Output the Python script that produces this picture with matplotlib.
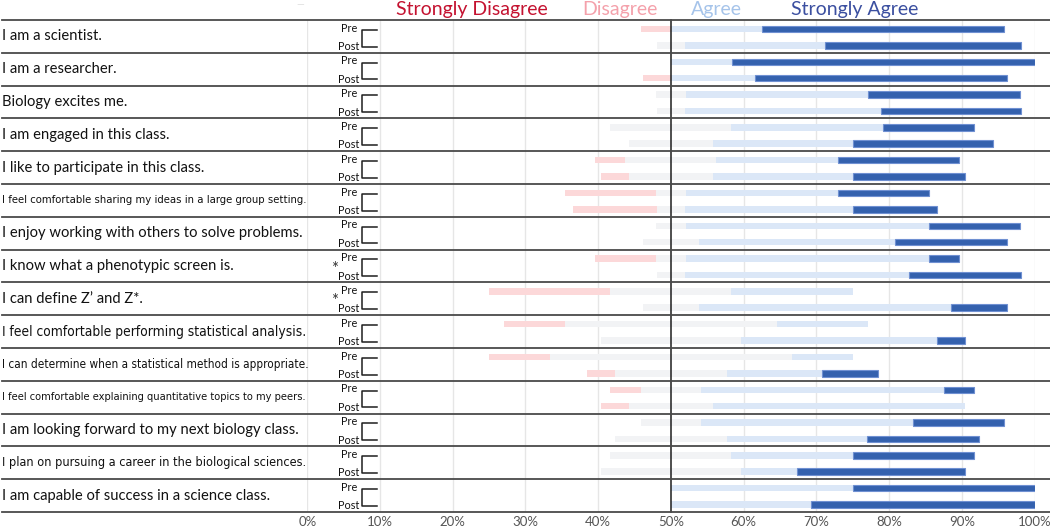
import matplotlib
matplotlib.use("Agg")
import matplotlib.pyplot as plt
from matplotlib import font_manager
from matplotlib.font_manager import FontProperties
from matplotlib.transforms import blended_transform_factory

# ---------------- data ----------------
questions = [
    "I am a scientist.",
    "I am a researcher.",
    "Biology excites me.",
    "I am engaged in this class.",
    "I like to participate in this class.",
    "I feel comfortable sharing my ideas in a large group setting.",
    "I enjoy working with others to solve problems.",
    "I know what a phenotypic screen is.",
    "I can define Z\u2019 and Z*.",
    "I feel comfortable performing statistical analysis.",
    "I can determine when a statistical method is appropriate.",
    "I feel comfortable explaining quantitative topics to my peers.",
    "I am looking forward to my next biology class.",
    "I plan on pursuing a career in the biological sciences.",
    "I am capable of success in a science class.",
]
significant = [False, False, False, False, False, False, False, True, True,
               False, False, False, False, False, False]

categories = ["Strongly Disagree", "Disagree", "Neutral", "Agree", "Strongly Agree"]

pre_strongly_disagree = [0, 0, 0, 0, 0, 0, 0, 0, 0, 0, 0, 0, 0, 0, 0]
pre_disagree = [8.3, 0, 0, 0, 8.3, 25, 0, 16.7, 33.3, 16.7, 16.7, 8.3, 0, 0, 0]
pre_neutral = [0, 0, 8.3, 33.3, 25, 8.3, 8.3, 8.3, 33.3, 58.3, 66.7, 16.7, 16.7, 33.3, 0]
pre_agree = [25, 16.7, 50, 41.7, 33.3, 41.7, 66.7, 66.7, 33.3, 25, 16.7, 66.7, 58.3, 33.3, 50]
pre_strongly_agree = [66.7, 83.3, 41.7, 25, 33.3, 25, 25, 8.3, 0, 0, 0, 8.3, 25, 33.3, 50]

post_strongly_disagree = [0, 0, 0, 0, 0, 0, 0, 0, 0, 0, 0, 0, 0, 0, 0]
post_disagree = [0, 7.7, 0, 0, 7.7, 23.1, 0, 0, 0, 0, 7.7, 7.7, 0, 0, 0]
post_neutral = [7.7, 0, 7.7, 23.1, 23.1, 7.7, 15.4, 7.7, 15.4, 38.5, 30.8, 23.1, 30.8, 38.5, 0]
post_agree = [38.5, 23.1, 53.8, 38.5, 38.5, 46.2, 53.8, 61.5, 69.2, 53.8, 26.2, 69.2, 38.5, 15.4, 38.5]
post_strongly_agree = [53.8, 69.2, 38.5, 38.5, 30.8, 23.1, 30.8, 30.8, 15.4, 7.7, 15.4, 0, 30.8, 46.2, 61.5]

tick_values = [0, 10, 20, 30, 40, 50, 60, 70, 80, 90, 100]
tick_labels = ["0%", "10%", "20%", "30%", "40%", "50%", "60%", "70%", "80%", "90%", "100%"]

# ---------------- style ----------------
FONT = "Lato"


def find_condensed():
    order = {"ultra-condensed": 1, "extra-condensed": 2, "condensed": 3, "semi-condensed": 4}
    best = None
    for f in font_manager.fontManager.ttflist:
        st = f.stretch
        if isinstance(st, str):
            lvl = order.get(st)
        else:
            lvl = 3 if st <= 400 else None
        if lvl is None or f.style != "normal":
            continue
        wt = f.weight if isinstance(f.weight, int) else (400 if f.weight in ("normal", "regular", "book") else 700)
        if wt not in (400,):
            continue
        if "mono" in f.name.lower() or "serif" in f.name.lower() and "sans" not in f.name.lower():
            continue
        score = abs(lvl - 3)
        if best is None or score < best[0]:
            best = (score, f.fname)
    return best[1] if best else None


COND_FILE = find_condensed()

col_sd = "#c8102e"
col_d = "#fcd8d9"
col_n = "#f2f3f5"
col_a = "#dbe7f7"
col_sa = "#3461ae"
col_sa_edge = "#6f90d2"
legend_colors = ["#c41230", "#f4a1ab", "#a6c4ea", "#3b4fa0"]

W, H = 1050, 527
fig = plt.figure(figsize=(W / 100, H / 100), dpi=100)
x0px, x100px = 307.3, 1034.6
top_px, bot_px = 20, 512
ax = fig.add_axes([x0px / W, 1 - bot_px / H, (x100px - x0px) / W, (bot_px - top_px) / H])
n_q = len(questions)
ax.set_xlim(0, 100)
ax.set_ylim(n_q, 0)
ax.axis("off")


def px_to_x(px):
    return (px - x0px) / (x100px - x0px) * 100


# grid
for v in tick_values:
    if v != 50:
        ax.plot([v, v], [0, n_q], color="#e6e6e6", lw=1.0, zorder=0)
ax.plot([50, 50], [0, n_q], color="#1e1e1e", lw=1.1, zorder=4, clip_on=False)

# bars
bar_h = 0.2
scale = 0.5
series = [
    (0.274, pre_strongly_disagree, pre_disagree, pre_neutral, pre_agree, pre_strongly_agree),
    (0.773, post_strongly_disagree, post_disagree, post_neutral, post_agree, post_strongly_agree),
]
for i in range(n_q):
    for off, sd_l, d_l, n_l, a_l, sa_l in series:
        y = i + off
        sd, d, n, a, sa = sd_l[i], d_l[i], n_l[i], a_l[i], sa_l[i]
        cum = 0
        for w, c in [(n / 2, col_n), (d, col_d), (sd, col_sd)]:
            if w > 0:
                ax.barh(y, w * scale, left=50 - (cum + w) * scale, height=bar_h,
                        color=c, lw=0, zorder=2)
            cum += w
        cum = 0
        for w, c in [(n / 2, col_n), (a, col_a), (sa, col_sa)]:
            if w > 0:
                kw = dict(edgecolor=col_sa_edge, lw=0.8) if c == col_sa else dict(lw=0)
                ax.barh(y, w * scale, left=50 + cum * scale, height=bar_h,
                        color=c, zorder=2, **kw)
            cum += w

# separators
trans = blended_transform_factory(fig.transFigure, ax.transData)
for k in range(n_q + 1):
    ax.plot([0.002, 1.0], [k, k], transform=trans, color="#4a4a4a", lw=1.3,
            clip_on=False, zorder=5)

# question labels (fit width)
fig.canvas.draw()
renderer = fig.canvas.get_renderer()
max_w = 305
base_fs = 10.6
for i, q in enumerate(questions):
    t = ax.text(1.5 / W, i + 0.5, q, transform=trans, ha="left", va="center",
                fontsize=base_fs, family=FONT, color="#111111")
    bb = t.get_window_extent(renderer)
    if bb.width > max_w:
        if COND_FILE:
            t.set_fontproperties(FontProperties(fname=COND_FILE, size=base_fs))
            bb = t.get_window_extent(renderer)
            if bb.width > max_w:
                t.set_fontsize(base_fs * max_w / bb.width)
        else:
            t.set_fontsize(base_fs * max_w / bb.width)

# pre / post labels and brackets
for i in range(n_q):
    ax.text(px_to_x(357.5), i + 0.25, "Pre", ha="right", va="center", fontsize=7.8,
            family=FONT, color="#111111", clip_on=False)
    ax.text(px_to_x(359), i + 0.81, "Post", ha="right", va="center", fontsize=7.8,
            family=FONT, color="#111111", clip_on=False)
    bx0, bx1 = px_to_x(361.5), px_to_x(377)
    ax.plot([bx1, bx0, bx0, bx1], [i + 0.3, i + 0.3, i + 0.81, i + 0.81],
            color="#1e1e1e", lw=1.1, clip_on=False, zorder=5)
    if significant[i]:
        ax.text(px_to_x(335), i + 0.58, "*", ha="center", va="center", fontsize=12,
                family=FONT, color="#333333", clip_on=False)

# x tick labels
for v, lab in zip(tick_values, tick_labels):
    ax.text(v, n_q + 0.3, lab, ha="center", va="center", fontsize=9.5,
            family=FONT, color="#555555", clip_on=False)

# legend
legend_x = [472, 620, 716, 855]
for lab, c, xp in zip([categories[0], categories[1], categories[3], categories[4]],
                      legend_colors, legend_x):
    fig.text(xp / W, 1 - 9 / H, lab, ha="center", va="center", fontsize=14,
             family=FONT, color=c)
fig.text(300 / W, 1 - 5 / H, "\u2014", ha="center", va="center", fontsize=7,
         family=FONT, color="#dddddd")

fig.savefig("out.png", dpi=100)
